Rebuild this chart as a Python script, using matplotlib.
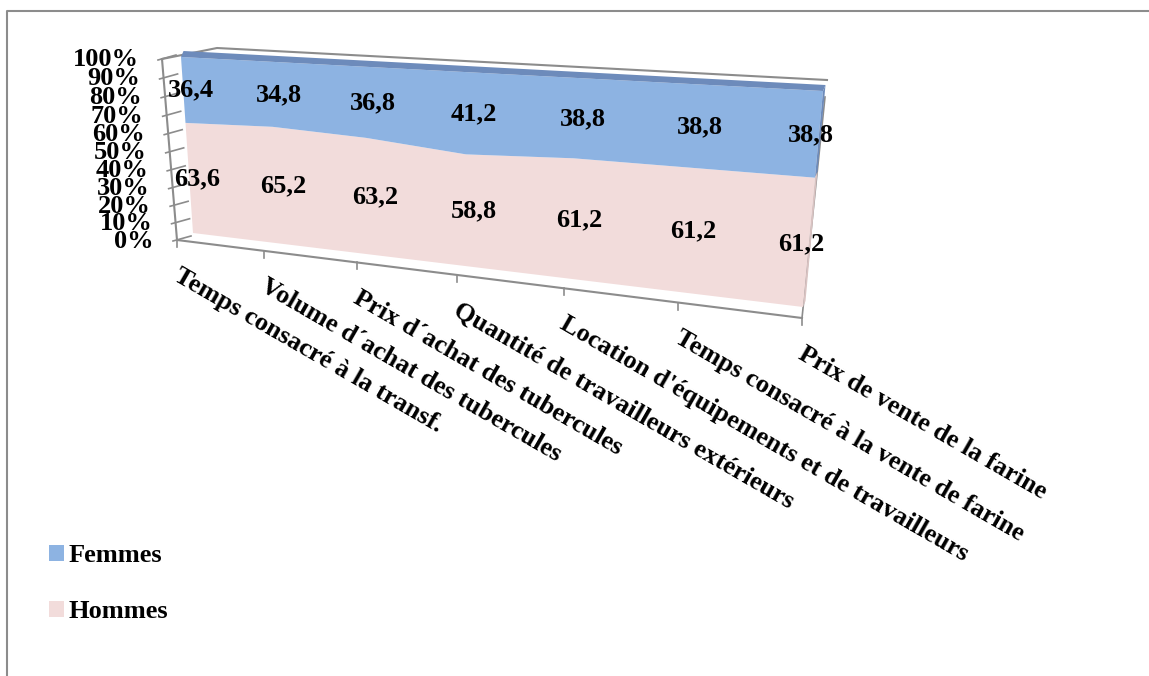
import numpy as np
import matplotlib.pyplot as plt
from matplotlib.patches import Polygon, Patch

categories = [
    "Temps consacré à la transf.",
    "Volume d´achat des tubercules",
    "Prix d´achat des tubercules",
    "Quantité de travailleurs extérieurs",
    "Location d'équipements et de travailleurs",
    "Temps consacré à la vente de farine",
    "Prix de vente de la farine",
]
femmes = [36.4, 34.8, 36.8, 41.2, 38.8, 38.8, 38.8]
hommes = [63.6, 65.2, 63.2, 58.8, 61.2, 61.2, 61.2]
pct_ticks = [0, 10, 20, 30, 40, 50, 60, 70, 80, 90, 100]

BLUE = "#8db3e2"
BLUE_TOP = "#6d8bbb"
PINK = "#f2dcdb"
PINK_SIDE = "#d9c3c2"
GRID = "#8c8c8c"
FONT = "Liberation Serif"


def fit_homography(src, dst):
    # unit square (s, v) -> screen pixels, 4 point correspondences
    A, b = [], []
    for (s, v), (x, y) in zip(src, dst):
        A.append([s, v, 1, 0, 0, 0, -s * x, -v * x])
        b.append(x)
        A.append([0, 0, 0, s, v, 1, -s * y, -v * y])
        b.append(y)
    h = np.linalg.solve(np.array(A, float), np.array(b, float))
    return np.append(h, 1.0).reshape(3, 3)


def project(H, s, v):
    s = np.asarray(s, float)
    v = np.asarray(v, float)
    w = H[2, 0] * s + H[2, 1] * v + 1.0
    x = (H[0, 0] * s + H[0, 1] * v + H[0, 2]) / w
    y = (H[1, 0] * s + H[1, 1] * v + H[1, 2]) / w
    return x, y


square = [(0, 0), (1, 0), (0, 1), (1, 1)]
# front face of the area series and the front plane of the walls/floor
H_area = fit_homography(square, [(193, 233), (803, 307), (181, 57), (823, 91)])
H_frame = fit_homography(square, [(177, 240), (802, 318), (162, 59), (825, 97)])
depth = np.array([2.5, -6.0])

n = len(categories)
s_pts = np.arange(n) / (n - 1)
h_frac = np.array(hommes) / 100.0
tot_frac = (np.array(hommes) + np.array(femmes)) / 100.0

fig = plt.figure(figsize=(11.49, 6.76), dpi=100)
ax = fig.add_axes([0, 0, 1, 1])
ax.set_xlim(0, 1149)
ax.set_ylim(676, 0)
ax.axis("off")

# chart border (left and top only)
ax.plot([7, 7, 1149], [676, 11, 11], color=GRID, lw=1.5, zorder=1)

# walls and floor edges
fx0, fy0 = project(H_frame, 0, 0)
fx1, fy1 = project(H_frame, 0, 1)
rx0, ry0 = project(H_frame, 1, 0)
rx1, ry1 = project(H_frame, 1, 1)
ax.plot([fx0, fx1], [fy0, fy1], color=GRID, lw=1.5, zorder=2)
ax.plot([fx0, rx0], [fy0, ry0], color=GRID, lw=1.5, zorder=2)
ax.plot([rx0, rx1], [ry0, ry1], color=GRID, lw=1.2, zorder=2)
ax.plot([fx1, 217, 827], [fy1, 48, 80], color=GRID, lw=1.5, zorder=2)

# percentage axis ticks and labels
for p in pct_ticks:
    x, y = project(H_frame, 0, p / 100.0)
    ax.plot([x - 4, x + 14], [y + 1, y - 4], color=GRID, lw=1.2, zorder=2)
    ax.text(x - 23, y + 1, f"{p}%", ha="right", va="center",
            fontsize=19, fontweight="bold", family=FONT, zorder=6)

# category ticks and rotated labels on the floor edge
for i, cat in enumerate(categories):
    x, y = project(H_frame, s_pts[i], 0)
    ax.plot([x, x], [y, y + 7], color=GRID, lw=1.2, zorder=2)
    ax.text(x + 4, y + 24, cat, rotation=-30, rotation_mode="anchor",
            ha="left", va="top", fontsize=19, fontweight="bold",
            family=FONT, zorder=6)

# Hommes: floor to boundary
bx, by = project(H_area, s_pts, h_frac)
x0, y0 = project(H_area, [0, 1], [0, 0])
pink = np.column_stack([np.r_[x0, bx[::-1]], np.r_[y0, by[::-1]]])
ax.add_patch(Polygon(pink, closed=True, fc=PINK, ec="none", zorder=3))

# Femmes: boundary to top
tx, ty = project(H_area, s_pts, tot_frac)
blue = np.column_stack([np.r_[bx, tx[::-1]], np.r_[by, ty[::-1]]])
ax.add_patch(Polygon(blue, closed=True, fc=BLUE, ec="none", zorder=3))

# top face and right side face of the stack
top = np.column_stack([np.r_[tx, tx[::-1] + depth[0]],
                       np.r_[ty, ty[::-1] + depth[1]]])
ax.add_patch(Polygon(top, closed=True, fc=BLUE_TOP, ec="none", zorder=3))
side_b = [(tx[-1], ty[-1]), (bx[-1], by[-1]),
          (bx[-1] + depth[0], by[-1] + depth[1]),
          (tx[-1] + depth[0], ty[-1] + depth[1])]
ax.add_patch(Polygon(side_b, closed=True, fc=BLUE_TOP, ec="none", zorder=3))
side_p = [(bx[-1], by[-1]), (x0[1], y0[1]),
          (x0[1] + depth[0], y0[1] + depth[1]),
          (bx[-1] + depth[0], by[-1] + depth[1])]
ax.add_patch(Polygon(side_p, closed=True, fc=PINK_SIDE, ec="none", zorder=3))

# data labels at the middle of each band
lx, ly = project(H_area, s_pts, h_frac / 2)
ux, uy = project(H_area, s_pts, h_frac + np.array(femmes) / 200.0)
for i in range(n):
    dx = 8 if i < n - 1 else -8
    ax.text(lx[i] + dx, ly[i], f"{hommes[i]:.1f}".replace(".", ","),
            ha="center", va="center", fontsize=19, fontweight="bold",
            family=FONT, zorder=7)
    ax.text(ux[i] + dx, uy[i], f"{femmes[i]:.1f}".replace(".", ","),
            ha="center", va="center", fontsize=19, fontweight="bold",
            family=FONT, zorder=7)

handles = [Patch(fc=BLUE, ec="none"), Patch(fc=PINK, ec="none")]
fig.legend(handles, ["Femmes", "Hommes"], loc="upper left",
           bbox_to_anchor=(36 / 1149, 1 - 531 / 676), frameon=False,
           handlelength=0.55, handleheight=0.55, handletextpad=0.2,
           labelspacing=1.25, borderpad=0,
           prop={"family": FONT, "weight": "bold", "size": 19})

fig.savefig("out.png", dpi=100)
